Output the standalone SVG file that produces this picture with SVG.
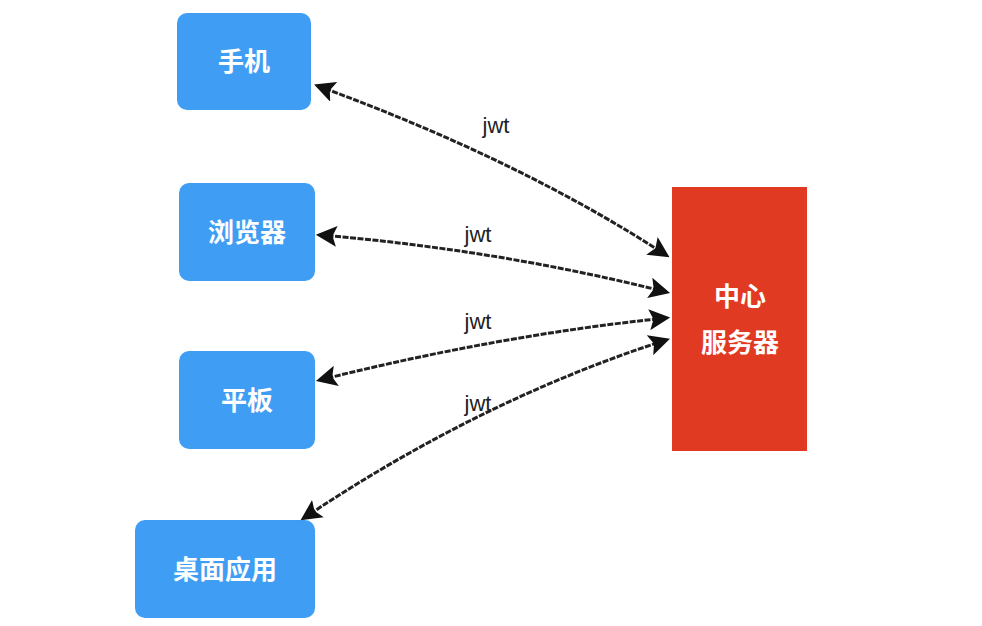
<svg xmlns="http://www.w3.org/2000/svg" width="982" height="626" viewBox="0 0 982 626">
<style>
.n{fill:#3f9ef3}
.t{font-family:"Noto Sans CJK SC",sans-serif;font-weight:bold;font-size:26px;fill:#fff;text-anchor:middle}
.l{font-family:"Liberation Sans",sans-serif;font-size:22px;fill:#222;text-anchor:middle}
.c path{fill:none;stroke:#222;stroke-width:3;stroke-dasharray:6 1.5}
</style>
<defs>
<marker id="a" viewBox="0 0 10 10" refX="8" refY="5" markerWidth="7" markerHeight="7" orient="auto-start-reverse"><path d="M0,0L10,5L0,10L2,5Z" fill="#111"/></marker>
</defs>
<rect width="982" height="626" fill="#fff"/>
<g id="phone"><rect class="n" x="177" y="13" width="134" height="97" rx="10"/><text class="t" x="244" y="71">手机</text></g>
<g id="browser"><rect class="n" x="179" y="183" width="136" height="98" rx="10"/><text class="t" x="247" y="242">浏览器</text></g>
<g id="tablet"><rect class="n" x="179" y="351" width="136" height="98" rx="10"/><text class="t" x="247" y="410">平板</text></g>
<g id="desktop"><rect class="n" x="135" y="520" width="180" height="98" rx="10"/><text class="t" x="225" y="579">桌面应用</text></g>
<g id="server"><rect x="672" y="187" width="135" height="264" fill="#e13a23"/><text class="t" x="740" y="306">中心</text><text class="t" x="740" y="352">服务器</text></g>
<g class="c">
<path d="M318,86 Q520,160 666,255" marker-start="url(#a)" marker-end="url(#a)"/>
<path d="M320,235 Q500,250 666,292" marker-start="url(#a)" marker-end="url(#a)"/>
<path d="M320,380 Q500,335 666,318" marker-start="url(#a)" marker-end="url(#a)"/>
<path d="M304,518 Q480,400 666,340" marker-start="url(#a)" marker-end="url(#a)"/>
</g>
<g><text class="l" x="496" y="133">jwt</text><text class="l" x="478" y="242">jwt</text><text class="l" x="478" y="329">jwt</text><text class="l" x="478" y="411">jwt</text></g>
</svg>
